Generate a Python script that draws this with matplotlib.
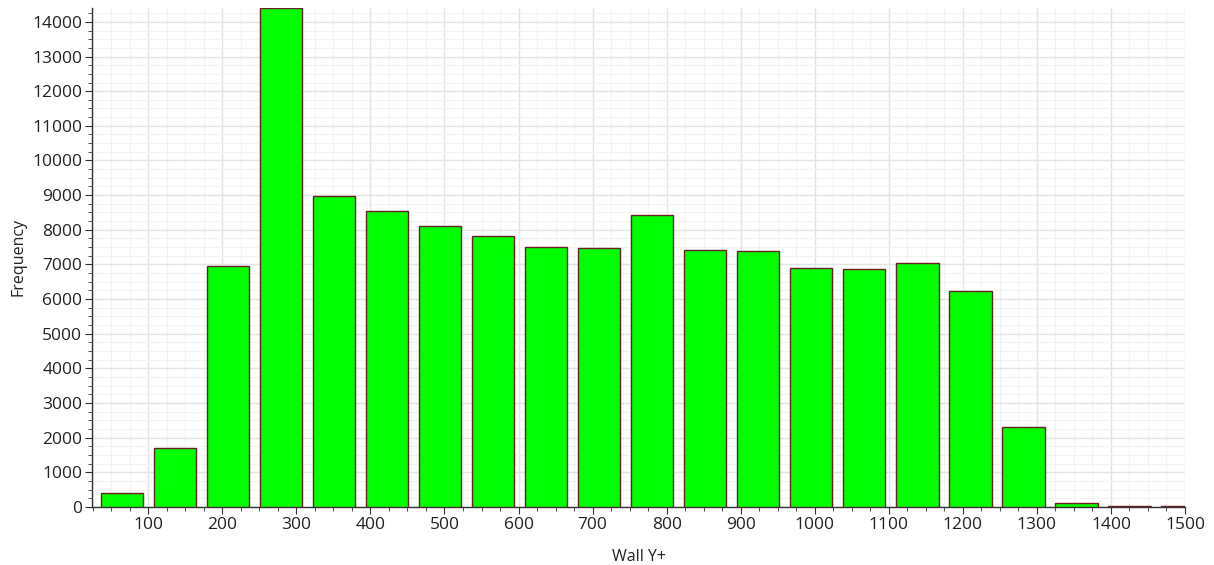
import numpy as np
import matplotlib.pyplot as plt
from matplotlib.ticker import MultipleLocator

plt.rcParams['font.family'] = ['Open Sans', 'DejaVu Sans']

# histogram of wall y+ values, 21 bins
bin_start = 28.4
bin_width = 71.62
counts = [404, 1711, 6962, 14400, 8982, 8549, 8110, 7807, 7510, 7481, 8425,
          7403, 7375, 6896, 6875, 7048, 6232, 2308, 104, 30, 15]

edges = bin_start + bin_width * np.arange(len(counts) + 1)
centers = (edges[:-1] + edges[1:]) / 2

fig = plt.figure(figsize=(12.14, 5.65), dpi=100)
ax = fig.add_axes([92 / 1214, 58 / 565, 1093 / 1214, 499 / 565])

ax.bar(centers, counts, width=bin_width * 0.8, color='#00ff00',
       edgecolor='#6b2020', linewidth=1.0, zorder=3)

ax.set_xlim(24, 1500)
ax.set_ylim(0, 14400)

ax.xaxis.set_major_locator(MultipleLocator(100))
ax.xaxis.set_minor_locator(MultipleLocator(25))
ax.yaxis.set_major_locator(MultipleLocator(1000))
ax.yaxis.set_minor_locator(MultipleLocator(250))

ax.grid(which='major', color='#e4e4e4', linewidth=1.0, zorder=0)
ax.grid(which='minor', color='#f2f2f2', linewidth=0.8, zorder=0)
ax.set_axisbelow(True)

for s in ('top', 'right'):
    ax.spines[s].set_visible(False)
for s in ('left', 'bottom'):
    ax.spines[s].set_color('#333333')
    ax.spines[s].set_linewidth(1.0)

ax.tick_params(which='major', length=5, color='#333333', labelsize=12.5,
               labelcolor='#222222', pad=2)
ax.tick_params(which='minor', length=3, color='#333333')
ax.set_xlabel('Wall Y+', fontsize=11.5, color='#222222', labelpad=11.5)
ax.set_ylabel('Frequency', fontsize=11.5, color='#222222', labelpad=4.5)

fig.savefig('out.png', dpi=100)
